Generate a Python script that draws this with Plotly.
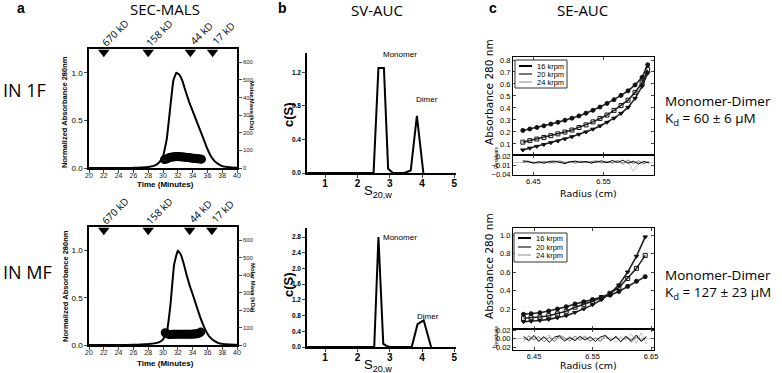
import plotly.graph_objects as go

W, H = 782, 373
def px(x): return x / W
def py(y): return 1 - y / H

FONT = "Liberation Sans, Arial, sans-serif"
BIG = "Open Sans, DejaVu Sans, sans-serif"

# ---------------- Panel a : SEC-MALS ----------------
sec_time_1f = [20, 24, 26, 27, 28, 29, 29.5, 30, 30.5, 31, 31.4, 31.8, 32.2, 32.6, 33, 33.5, 34, 34.5, 35, 35.5, 36, 36.5, 37, 37.5, 38, 39, 40]
sec_abs_1f = [0, 0, 0.002, 0.005, 0.01, 0.03, 0.06, 0.12, 0.3, 0.65, 0.92, 1.0, 0.98, 0.92, 0.82, 0.7, 0.6, 0.5, 0.4, 0.3, 0.2, 0.12, 0.07, 0.04, 0.02, 0.008, 0.003]
mass_time_1f = [30.2, 30.4, 30.6, 30.8, 31.0, 31.2, 31.4, 31.6, 31.8, 32.0, 32.2, 32.4, 32.6, 32.8, 33.0, 33.2, 33.4, 33.6, 33.8, 34.0, 34.2, 34.4, 34.6, 34.8, 35.0, 35.2]
mass_1f = [48, 50, 54, 58, 60, 62, 63, 64, 65, 65, 64, 64, 63, 62, 61, 60, 59, 58, 57, 56, 55, 54, 53, 52, 51, 50]

sec_time_mf = [20, 24, 26, 27, 28, 29, 29.5, 30, 30.5, 31, 31.5, 32, 32.4, 32.8, 33.2, 33.6, 34, 34.5, 35, 35.5, 36, 36.5, 37, 37.5, 38, 39, 40]
sec_abs_mf = [0, 0, 0.002, 0.005, 0.01, 0.02, 0.03, 0.06, 0.13, 0.42, 0.85, 1.0, 0.96, 0.86, 0.74, 0.63, 0.54, 0.42, 0.3, 0.2, 0.12, 0.07, 0.04, 0.02, 0.012, 0.005, 0.002]
mass_time_mf = [30.3, 30.5, 30.7, 30.9, 31.1, 31.3, 31.5, 31.7, 31.9, 32.1, 32.3, 32.5, 32.7, 32.9, 33.1, 33.3, 33.5, 33.7, 33.9, 34.1, 34.3, 34.5, 34.7, 34.9, 35.1]
mass_mf = [70, 66, 62, 60, 60, 61, 62, 62, 62, 62, 62, 62, 62, 62, 62, 62, 62, 62, 62, 63, 63, 64, 65, 68, 74]

std_times_1f = [22, 28, 33.7, 36.7]
std_times_mf = [22, 28, 33.6, 36.6]
std_labels = ["670 kD", "158 kD", "44 kD", "17 kD"]

# ---------------- Panel b : SV-AUC ----------------
sv_s_1f = [0.45, 2.5, 2.65, 2.82, 2.95, 3.1, 3.45, 3.65, 3.84, 4.04]
sv_c_1f = [0, 0, 1.25, 1.25, 0.05, 0, 0, 0.03, 0.68, 0]
sv_s_mf = [0.45, 2.52, 2.65, 2.8, 2.9, 3.0, 3.68, 3.86, 4.05, 4.28]
sv_c_mf = [0, 0, 2.8, 0.08, 0.03, 0, 0, 0.58, 0.68, 0]

# ---------------- Panel c : SE-AUC ----------------
speeds = ["16 krpm", "20 krpm", "24 krpm"]
se_r_1f = [6.435, 6.445, 6.455, 6.465, 6.475, 6.485, 6.495, 6.505, 6.515, 6.525, 6.535, 6.545, 6.555, 6.565, 6.575, 6.585, 6.595, 6.605, 6.613]
se_a_1f = [
    [0.213, 0.225, 0.238, 0.251, 0.266, 0.281, 0.298, 0.315, 0.334, 0.357, 0.381, 0.408, 0.438, 0.469, 0.505, 0.543, 0.592, 0.655, 0.76],
    [0.115, 0.128, 0.141, 0.154, 0.169, 0.184, 0.199, 0.216, 0.237, 0.259, 0.284, 0.313, 0.341, 0.38, 0.42, 0.465, 0.53, 0.61, 0.72],
    [0.05, 0.065, 0.08, 0.095, 0.11, 0.125, 0.142, 0.16, 0.18, 0.2, 0.223, 0.25, 0.28, 0.315, 0.355, 0.405, 0.48, 0.58, 0.69],
]
res_r_1f = [6.435, 6.4425, 6.45, 6.4575, 6.465, 6.4725, 6.48, 6.4875, 6.495, 6.5025, 6.51, 6.5175, 6.525, 6.5325, 6.54, 6.5475, 6.555, 6.5625, 6.57, 6.5775, 6.585, 6.5925, 6.6, 6.6075, 6.615]
res_1f = [
    [0.004, 0.002, -0.003, 0.001, -0.004, 0.002, 0.003, -0.002, -0.005, 0.001, 0.003, -0.001, 0.002, -0.003, 0.001, 0.004, -0.002, 0.005, -0.001, 0.006, -0.004, 0.003, -0.006, 0.002, -0.003],
    [-0.002, 0.003, -0.004, -0.001, 0.002, -0.003, 0.001, 0.004, -0.002, 0.002, -0.004, 0.003, -0.001, 0.002, 0.004, -0.003, 0.001, -0.002, 0.005, -0.004, 0.007, -0.005, 0.004, -0.006, 0.002],
    [0.001, -0.003, 0.002, -0.006, 0.003, -0.002, -0.004, 0.002, 0.001, -0.003, 0.004, -0.002, 0.001, -0.004, 0.002, -0.001, 0.003, -0.005, 0.002, -0.008, 0.004, -0.03, -0.006, 0.003, -0.002],
]
se_r_mf = [6.432, 6.445, 6.46, 6.475, 6.49, 6.505, 6.52, 6.535, 6.55, 6.565, 6.58, 6.595, 6.61, 6.625, 6.64]
se_a_mf = [
    [0.143, 0.150, 0.16, 0.178, 0.2, 0.225, 0.255, 0.278, 0.302, 0.325, 0.35, 0.39, 0.445, 0.5, 0.55],
    [0.1, 0.105, 0.113, 0.128, 0.148, 0.175, 0.22, 0.25, 0.285, 0.325, 0.37, 0.43, 0.53, 0.64, 0.78],
    [0.063, 0.068, 0.076, 0.088, 0.105, 0.128, 0.163, 0.2, 0.245, 0.3, 0.37, 0.46, 0.6, 0.77, 0.98],
]
res_r_mf = [6.432, 6.441, 6.45, 6.458, 6.467, 6.476, 6.485, 6.493, 6.502, 6.511, 6.52, 6.528, 6.537, 6.546, 6.555, 6.563, 6.572, 6.581, 6.59, 6.598, 6.607, 6.616, 6.625, 6.633, 6.642]
res_mf = [
    [0.006, -0.004, 0.008, -0.006, 0.005, -0.008, 0.004, 0.007, -0.005, 0.003, -0.004, 0.006, -0.003, 0.005, -0.006, 0.004, 0.008, -0.005, 0.006, -0.007, 0.005, -0.004, 0.009, -0.006, 0.004],
    [-0.005, 0.007, -0.003, 0.006, -0.007, 0.004, -0.006, 0.008, 0.003, -0.005, 0.007, -0.004, 0.005, -0.006, 0.003, -0.005, 0.006, -0.003, 0.004, -0.006, 0.007, -0.008, 0.005, -0.004, 0.006],
    [0.003, -0.006, 0.005, -0.004, 0.002, 0.009, -0.007, 0.004, -0.003, 0.006, -0.005, 0.003, 0.007, -0.004, 0.002, -0.006, 0.005, 0.003, -0.007, 0.006, -0.004, 0.012, -0.01, 0.014, -0.012],
]
line_colors = ["#000000", "#777777", "#c4c4c4"]
marker_syms = ["circle", "square-open", "triangle-down"]

fig = go.Figure()

# ---- panel a traces
A_YMAX = 1.25
for xa, ya, ya2, t, a, mt, m, st in [
        ("x", "y", "y2", sec_time_1f, sec_abs_1f, mass_time_1f, mass_1f, std_times_1f),
        ("x2", "y3", "y4", sec_time_mf, sec_abs_mf, mass_time_mf, mass_mf, std_times_mf)]:
    fig.add_trace(go.Scatter(x=t, y=a, mode="lines", line=dict(color="black", width=2, shape="spline", smoothing=0.3),
                             xaxis=xa, yaxis=ya, showlegend=False))
    fig.add_trace(go.Scatter(x=mt, y=m, mode="markers",
                             marker=dict(symbol="circle-open", size=7, color="black", line=dict(width=2)),
                             xaxis=xa, yaxis=ya2, showlegend=False))
    fig.add_trace(go.Scatter(x=st, y=[A_YMAX * 0.972] * len(st), mode="markers",
                             marker=dict(symbol="triangle-down", size=10, color="black"),
                             xaxis=xa, yaxis=ya, showlegend=False, cliponaxis=False))

# ---- panel b traces
for xa, ya, s, c in [("x3", "y5", sv_s_1f, sv_c_1f), ("x4", "y6", sv_s_mf, sv_c_mf)]:
    fig.add_trace(go.Scatter(x=s, y=c, mode="lines", line=dict(color="black", width=2),
                             xaxis=xa, yaxis=ya, showlegend=False))

# ---- panel c traces
for xa, ya, xr, yr, r, aa, rr, res in [
        ("x5", "y7", "x6", "y8", se_r_1f, se_a_1f, res_r_1f, res_1f),
        ("x7", "y9", "x8", "y10", se_r_mf, se_a_mf, res_r_mf, res_mf)]:
    for i in range(3):
        fig.add_trace(go.Scatter(x=r, y=aa[i], mode="lines+markers",
                                 line=dict(color="#222", width=1.6),
                                 marker=dict(symbol=marker_syms[i], size=4, color="#111", line=dict(width=1, color="#111")),
                                 xaxis=xa, yaxis=ya, showlegend=False))
    for i in [2, 1, 0]:
        fig.add_trace(go.Scatter(x=rr, y=res[i], mode="lines", line=dict(color=line_colors[i], width=1),
                                 xaxis=xr, yaxis=yr, showlegend=False))

tf = lambda s: dict(size=s, family=FONT, color="black")

def a_x(anchor):
    return dict(domain=[px(89), px(237)], range=[20, 40], tickvals=list(range(20, 41, 2)),
                ticks="outside", ticklen=3, tickwidth=1, showline=True, linecolor="black", linewidth=1.5,
                mirror=True, showgrid=False, zeroline=False, anchor=anchor, ticklabelstandoff=-3,
                tickfont=dict(size=7, family=FONT, color="#222"))

def a_y(dom):
    return dict(domain=dom, range=[0, A_YMAX], tickvals=[0, 0.5, 1.0], ticktext=["0.0", "0.5", "1.0"],
                ticks="outside", ticklen=3, showline=True, linecolor="black", linewidth=1.5,
                showgrid=False, zeroline=False, tickfont=tf(8))

def a_y2(over, anchor):
    return dict(overlaying=over, side="right", anchor=anchor, range=[0, 675], tickvals=list(range(0, 601, 100)),
                ticks="outside", ticklen=3, showline=True, linecolor="black", linewidth=1.5,
                showgrid=False, zeroline=False, tickfont=dict(size=6, family=FONT, color="#222"))

def b_x(anchor):
    return dict(domain=[px(307), px(456)], range=[0.44, 5.05], tickvals=[1, 2, 3, 4, 5], anchor=anchor,
                ticks="outside", ticklen=3, showline=True, linecolor="black", linewidth=1.5, ticklabelstandoff=-3,
                showgrid=False, zeroline=False, tickfont=dict(size=10, family=FONT, color="black", weight="bold"))

def b_y(dom, rng, tv):
    return dict(domain=dom, range=rng, tickvals=tv, tickformat=".1f",
                ticks="outside", ticklen=3, showline=True, linecolor="black", linewidth=1.5,
                showgrid=False, zeroline=False, tickfont=dict(size=6.5, family=FONT, color="black", weight="bold"))

def c_x(anchor, rng, labels):
    return dict(domain=[px(513), px(654)], range=rng, tickvals=[6.45, 6.55, 6.65], anchor=anchor,
                ticks="inside", ticklen=3, showline=True, linecolor="black", linewidth=1, mirror="ticks",
                showgrid=False, zeroline=False, showticklabels=labels, tickfont=tf(7.5), ticklabelstandoff=-1)

def c_y(dom, rng, tv, fmt, zl=False):
    return dict(domain=dom, range=rng, tickvals=tv, tickformat=fmt,
                ticks="inside", ticklen=3, showline=True, linecolor="black", linewidth=1, mirror="ticks",
                showgrid=False, zeroline=zl, zerolinecolor="#cccccc", zerolinewidth=1, tickfont=tf(7.5))

layout = dict(
    width=W, height=H, margin=dict(l=0, r=0, t=0, b=0),
    paper_bgcolor="white", plot_bgcolor="white", template="none", showlegend=False,
    xaxis=a_x("y"), yaxis=dict(a_y([py(168), py(49)]), anchor="x"),
    yaxis2=a_y2("y", "x"),
    xaxis2=a_x("y3"), yaxis3=dict(a_y([py(345), py(227)]), anchor="x2"),
    yaxis4=a_y2("y3", "x2"),
    xaxis3=b_x("y5"), yaxis5=dict(b_y([py(173), py(53)], [0, 1.43], [0, 0.4, 0.8, 1.2]), anchor="x3"),
    xaxis4=b_x("y6"), yaxis6=dict(b_y([py(347), py(228)], [0, 3.03], [0, 0.4, 0.8, 1.2, 1.6, 2.0, 2.4, 2.8]), anchor="x4"),
    xaxis5=c_x("y7", [6.421, 6.622], False),
    yaxis7=dict(c_y([py(155), py(57)], [0.008, 0.825], [0.1, 0.2, 0.3, 0.4, 0.5, 0.6, 0.7, 0.8], ".1f"), anchor="x5"),
    xaxis6=c_x("y8", [6.421, 6.622], True),
    yaxis8=dict(c_y([py(175), py(155)], [-0.042, 0.023], [-0.04, -0.01, 0.02], ".2f", True), anchor="x6"),
    xaxis7=c_x("y9", [6.414, 6.655], False),
    yaxis9=dict(c_y([py(329), py(228)], [-0.016, 1.076], [0.2, 0.4, 0.6, 0.8, 1.0], ".1f"), anchor="x7"),
    xaxis8=c_x("y10", [6.414, 6.655], True),
    yaxis10=dict(c_y([py(350), py(329)], [-0.026, 0.023], [-0.02, 0.0, 0.02], ".2f", True), anchor="x8"),
)
fig.update_layout(**layout)

ann = []
def T(text, x, y, size, family=BIG, angle=0, xanchor="center", yanchor="middle", bold=False, color="black"):
    ann.append(dict(text=text, x=px(x), y=py(y), xref="paper", yref="paper", showarrow=False,
                    textangle=angle, xanchor=xanchor, yanchor=yanchor,
                    font=dict(size=size, family=family, color=color, weight="bold" if bold else "normal")))

# panel letters and titles
T("a", 21, 8, 14, FONT, bold=True)
T("b", 282, 8, 14, FONT, bold=True)
T("c", 493, 8, 14, FONT, bold=True)
T("SEC-MALS", 165, 9, 15)
T("SV-AUC", 377, 10, 15)
T("SE-AUC", 582, 10, 15)
T("IN 1F", 1, 90, 18, xanchor="left")
T("IN MF", 1, 272, 18, xanchor="left")

# panel a labels
for yc, yt in [(112, 184), (286, 363)]:
    T("Normalized Absorbance 280nm", 65, yc, 7.5, FONT, angle=-90, bold=True)
    T("Time (Minutes)", 165, yt, 8, FONT, bold=True)
T("Molar Mass (kDa)", 252, 105, 6, FONT, angle=90, bold=True)
T("Molar Mass (kDa)", 253, 287, 6, FONT, angle=90, bold=True)
for xa, st, top in [("x", std_times_1f, 49), ("x2", std_times_mf, 227)]:
    for t, lab in zip(st, std_labels):
        ann.append(dict(text=lab, x=t, xshift=11, y=py(top - 16), xref=xa, yref="paper", showarrow=False,
                        textangle=-45, xanchor="center", yanchor="middle",
                        font=dict(size=10, family=BIG, color="black")))

# panel b labels
for yc, ys, ym in [(115, 191, 55), (285, 365, 237)]:
    T("c(S)", 288, yc, 13, FONT, angle=-90, bold=True)
    T("S<sub>20,w</sub>", 378, ys, 13, FONT)
    T("Monomer", 400, ym, 8, FONT)
T("Dimer", 427, 100, 8, FONT)
T("Dimer", 428, 316, 8, FONT)

# panel c labels
for yc, yr, yx, y1 in [(92, 158, 193, 101), (266, 337, 365, 275)]:
    T("Absorbance 280 nm", 489, yc, 10.5, "DejaVu Sans, sans-serif", angle=-90)
    T("Residuals", 496, yr, 5, FONT, angle=-90)
    T("Radius (cm)", 588, yx, 9.5, "DejaVu Sans, sans-serif")
    T("Monomer-Dimer", 663, y1, 13.5, xanchor="left")
T("K<sub>d</sub> = 60 ± 6 µM", 663, 119, 13.5, xanchor="left")
T("K<sub>d</sub> = 127 ± 23 µM", 663, 293, 13.5, xanchor="left")

# legends for panel c (drawn as boxes with line samples)
shapes = []
for (bx0, by0, bx1, by1, rows) in [(515, 60, 567, 88, [66, 74, 82]), (514, 233, 567, 262, [238, 247, 255])]:
    shapes.append(dict(type="rect", xref="paper", yref="paper", x0=px(bx0), x1=px(bx1), y0=py(by1), y1=py(by0),
                       line=dict(color="#333", width=1), fillcolor="white", layer="above"))
    for i, ry in enumerate(rows):
        shapes.append(dict(type="line", xref="paper", yref="paper", x0=px(bx0 + 4), x1=px(bx0 + 17),
                           y0=py(ry), y1=py(ry), line=dict(color=line_colors[i], width=2), layer="above"))
        T(speeds[i], bx0 + 20, ry, 7.5, FONT, xanchor="left")

fig.update_layout(annotations=ann, shapes=shapes)
fig.write_html("out.html", config={"displayModeBar": False},
               post_script="document.body.style.margin='0px';document.body.style.overflow='hidden';")
